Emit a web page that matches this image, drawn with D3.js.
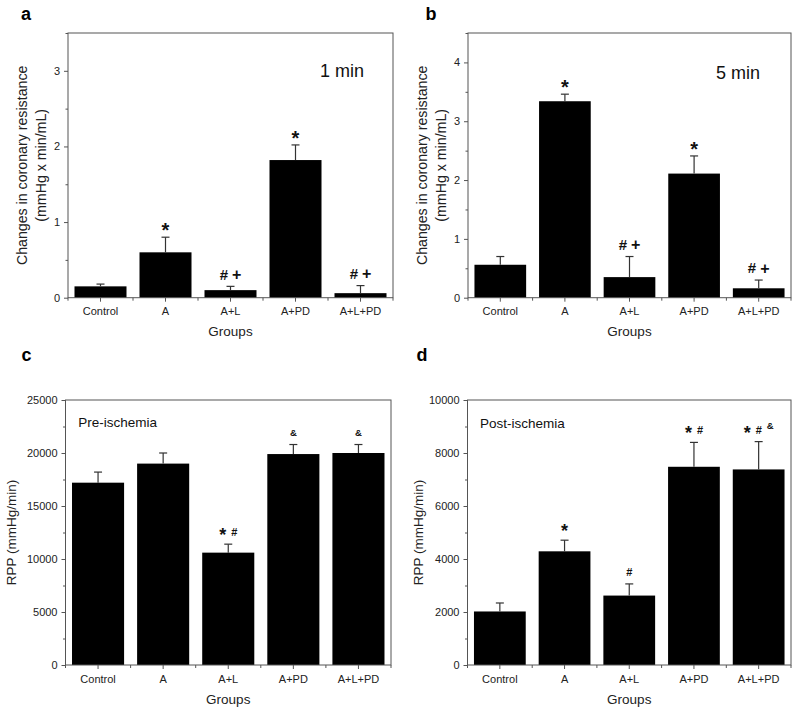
<!DOCTYPE html>
<html>
<head>
<meta charset="utf-8">
<script src="https://cdn.jsdelivr.net/npm/d3@7"></script>
<style>
  body { margin: 0; background: #fff; }
  svg { display: block; font-family: "Liberation Sans", Arial, sans-serif; }
  .frame { fill: none; stroke: #555; stroke-width: 1; }
  .axis path { display: none; }
  .axis line { stroke: #555; }
  .axis text { fill: #222; font-size: 11px; }
</style>
</head>
<body>
<div id="chart"></div>
<script>
// groups on the x axis (same for all four panels)
const groups = ["Control", "A", "A+L", "A+PD", "A+L+PD"];

// a: coronary resistance, 1 min
const resist1Mean = [0.15, 0.60, 0.10, 1.82, 0.06];
const resist1Err  = [0.03, 0.20, 0.05, 0.20, 0.10];
const resist1Sig  = ["", "*", "# +", "*", "# +"];
const resist1Ticks = [0, 1, 2, 3];

// b: coronary resistance, 5 min
const resist5Mean = [0.56, 3.34, 0.35, 2.11, 0.16];
const resist5Err  = [0.14, 0.12, 0.35, 0.30, 0.14];
const resist5Sig  = ["", "*", "# +", "*", "# +"];
const resist5Ticks = [0, 1, 2, 3, 4];

// c: RPP pre-ischemia
const rppPreMean = [17200, 19000, 10600, 19900, 20000];
const rppPreErr  = [1000, 1000, 800, 900, 800];
const rppPreSig  = ["", "", "* #", "&", "&"];
const rppPreTicks = [0, 5000, 10000, 15000, 20000, 25000];

// d: RPP post-ischemia
const rppPostMean = [2020, 4290, 2620, 7480, 7380];
const rppPostErr  = [320, 420, 440, 920, 1050];
const rppPostSig  = ["", "*", "#", "* #", "* # &"];
const rppPostTicks = [0, 2000, 4000, 6000, 8000, 10000];

const width = 800, height = 712;

const svg = d3.select('#chart')
    .append('svg')
    .attr('width', width)
    .attr('height', height);

const panels = [
    { letter: 'a', mean: resist1Mean, err: resist1Err, sig: resist1Sig, ticks: resist1Ticks,
      max: 3.5, minor: 0.5, box: { l: 68, r: 393, t: 33, b: 297.7 },
      ylab: ['Changes in coronary resistance', '(mmHg x min/mL)'], ylabX: [27, 45.5], ylabSize: 14.2,
      note: '1 min', noteX: 320, noteY: 77.3, noteSize: 18,
      letterX: 21, letterY: 19.5, tickY: 315, groupsY: 335.5, big: true },
    { letter: 'b', mean: resist5Mean, err: resist5Err, sig: resist5Sig, ticks: resist5Ticks,
      max: 4.5, minor: 0.5, box: { l: 468, r: 791, t: 33, b: 297.7 },
      ylab: ['Changes in coronary resistance', '(mmHg x min/mL)'], ylabX: [427, 445.5], ylabSize: 14.2,
      note: '5 min', noteX: 716, noteY: 79, noteSize: 18,
      letterX: 425.5, letterY: 19.5, tickY: 315, groupsY: 335.5, big: true },
    { letter: 'c', mean: rppPreMean, err: rppPreErr, sig: rppPreSig, ticks: rppPreTicks,
      max: 25000, minor: 2500, box: { l: 65.5, r: 391, t: 400, b: 665 },
      ylab: ['RPP (mmHg/min)'], ylabX: [15.5], ylabSize: 13.5,
      note: 'Pre-ischemia', noteX: 78.3, noteY: 427.3, noteSize: 13.5,
      letterX: 21.5, letterY: 360.7, tickY: 683.3, groupsY: 704, big: false },
    { letter: 'd', mean: rppPostMean, err: rppPostErr, sig: rppPostSig, ticks: rppPostTicks,
      max: 10000, minor: 1000, box: { l: 467.5, r: 791, t: 400, b: 665 },
      ylab: ['RPP (mmHg/min)'], ylabX: [422.5], ylabSize: 13.5,
      note: 'Post-ischemia', noteX: 480, noteY: 428.3, noteSize: 13.5,
      letterX: 416.5, letterY: 360.7, tickY: 683.3, groupsY: 704, big: false }
];

panels.forEach(p => drawPanel(p));

function drawPanel(p) {
    const box = p.box;
    const g = svg.append('g');

    const x = d3.scaleBand()
        .domain(groups)
        .range([box.l, box.r])
        .paddingInner(0.2)
        .paddingOuter(0.1);

    const y = d3.scaleLinear()
        .domain([0, p.max])
        .range([box.b, box.t]);

    // minor y ticks
    const minorVals = d3.range(0, p.max + 1e-9, p.minor).filter(v => !p.ticks.includes(v));
    g.append('g')
        .attr('class', 'axis')
        .attr('transform', `translate(${box.l},0)`)
        .call(d3.axisLeft(y).tickValues(minorVals).tickSize(2.5).tickFormat(''));

    // major y ticks
    g.append('g')
        .attr('class', 'axis')
        .attr('transform', `translate(${box.l},0)`)
        .call(d3.axisLeft(y).tickValues(p.ticks).tickSize(4).tickPadding(4).tickFormat(d3.format('d')));

    // x ticks at category centres
    g.append('g')
        .attr('class', 'axis')
        .attr('transform', `translate(0,${box.b})`)
        .call(d3.axisBottom(x).tickSize(4).tickPadding(5))
        .selectAll('text')
        .attr('y', null)
        .attr('dy', null)
        .attr('transform', `translate(0,${p.tickY - box.b})`);

    // x ticks at category boundaries
    const half = x.step() * x.paddingInner() / 2;
    const bounds = groups.map(d => x(d) - half).concat([x(groups[groups.length - 1]) + x.bandwidth() + half]);
    g.selectAll('.xminor')
        .data(bounds)
        .enter()
        .append('line')
        .attr('x1', d => d)
        .attr('x2', d => d)
        .attr('y1', box.b)
        .attr('y2', box.b + 3)
        .attr('stroke', '#555');

    // bars
    const rows = groups.map((name, i) => ({ name, mean: p.mean[i], err: p.err[i], sig: p.sig[i] }));

    g.selectAll('.bar')
        .data(rows)
        .enter()
        .append('rect')
        .attr('x', d => x(d.name))
        .attr('y', d => y(d.mean))
        .attr('width', x.bandwidth())
        .attr('height', d => y(0) - y(d.mean))
        .attr('fill', '#000');

    // error bars (upper half only)
    const cx = d => x(d.name) + x.bandwidth() / 2;
    g.selectAll('.err')
        .data(rows)
        .enter()
        .append('line')
        .attr('x1', cx).attr('x2', cx)
        .attr('y1', d => y(d.mean))
        .attr('y2', d => y(d.mean + d.err))
        .attr('stroke', '#333')
        .attr('stroke-width', 1.2);

    g.selectAll('.cap')
        .data(rows)
        .enter()
        .append('line')
        .attr('x1', d => cx(d) - 4).attr('x2', d => cx(d) + 4)
        .attr('y1', d => y(d.mean + d.err))
        .attr('y2', d => y(d.mean + d.err))
        .attr('stroke', '#333')
        .attr('stroke-width', 1.2);

    // significance marks
    rows.filter(d => d.sig).forEach(d => {
        const yc = y(d.mean + d.err) - 12;
        const parts = d.sig.split(' ');
        const t = g.append('text')
            .attr('x', cx(d))
            .attr('y', yc)
            .attr('text-anchor', 'middle')
            .attr('font-weight', 'bold')
            .attr('fill', '#111');
        let prev = 0;
        parts.forEach((s, k) => {
            let size, ratio = 0.36, raise = 0;
            if (s === '*') { size = p.big ? 20 : 18; ratio = p.big ? 0.6 : 0.5; }
            else if (s === '#') { size = p.big ? 15 : 11; }
            else if (s === '+') { size = 16; }
            else { size = 9.5; if (k > 0) raise = 4; }
            const base = size * ratio - raise;
            t.append('tspan')
                .attr('font-size', size)
                .attr('dx', k > 0 ? (p.big ? 4 : 5) : 0)
                .attr('dy', base - prev)
                .text(s);
            prev = base;
        });
    });

    // frame
    g.append('rect')
        .attr('class', 'frame')
        .attr('x', box.l)
        .attr('y', box.t)
        .attr('width', box.r - box.l)
        .attr('height', box.b - box.t);

    // y label
    const midY = (box.t + box.b) / 2;
    p.ylab.forEach((txt, i) => {
        g.append('text')
            .attr('transform', `translate(${p.ylabX[i]},${midY}) rotate(-90)`)
            .attr('text-anchor', 'middle')
            .attr('font-size', p.ylabSize)
            .attr('fill', '#222')
            .text(txt);
    });

    // x label
    g.append('text')
        .attr('x', (box.l + box.r) / 2)
        .attr('y', p.groupsY)
        .attr('text-anchor', 'middle')
        .attr('font-size', 13.5)
        .attr('fill', '#222')
        .text('Groups');

    // note inside plot
    g.append('text')
        .attr('x', p.noteX)
        .attr('y', p.noteY)
        .attr('font-size', p.noteSize)
        .attr('fill', '#111')
        .text(p.note);

    // panel letter
    g.append('text')
        .attr('x', p.letterX)
        .attr('y', p.letterY)
        .attr('font-size', 18)
        .attr('font-weight', 'bold')
        .attr('fill', '#000')
        .text(p.letter);
}
</script>
</body>
</html>
